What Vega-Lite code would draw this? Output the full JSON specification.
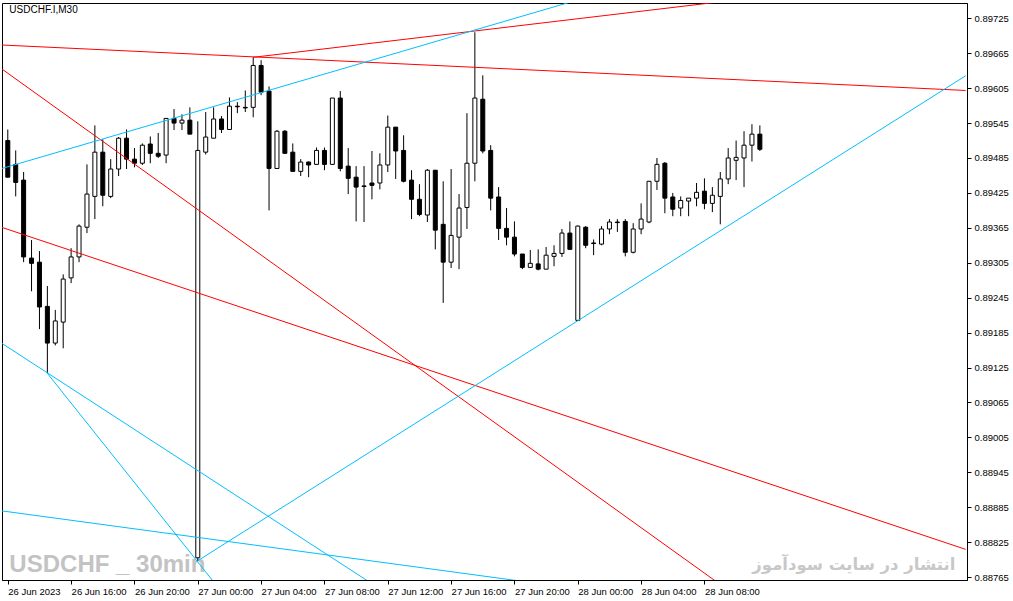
{
  "$schema": "https://vega.github.io/schema/vega-lite/v6.json",
  "width": 965,
  "height": 577,
  "autosize": {"type": "none"},
  "padding": {"left": 2, "top": 3, "right": 46, "bottom": 21},
  "background": "white",
  "datasets": {
    "candles": [
      {"t": "2023-06-26T12:00:00Z", "o": 0.89515, "h": 0.89534, "l": 0.89452, "c": 0.89452},
      {"t": "2023-06-26T12:30:00Z", "o": 0.89474, "h": 0.89498, "l": 0.89419, "c": 0.89443},
      {"t": "2023-06-26T13:00:00Z", "o": 0.89447, "h": 0.89461, "l": 0.89306, "c": 0.89315},
      {"t": "2023-06-26T13:30:00Z", "o": 0.89313, "h": 0.89344, "l": 0.89256, "c": 0.89304},
      {"t": "2023-06-26T14:00:00Z", "o": 0.89306, "h": 0.89325, "l": 0.89191, "c": 0.89229},
      {"t": "2023-06-26T14:30:00Z", "o": 0.89230, "h": 0.89265, "l": 0.89115, "c": 0.89167},
      {"t": "2023-06-26T15:00:00Z", "o": 0.89167, "h": 0.89224, "l": 0.89163, "c": 0.89205},
      {"t": "2023-06-26T15:30:00Z", "o": 0.89203, "h": 0.89285, "l": 0.89158, "c": 0.89277},
      {"t": "2023-06-26T16:00:00Z", "o": 0.89279, "h": 0.89330, "l": 0.89270, "c": 0.89315},
      {"t": "2023-06-26T16:30:00Z", "o": 0.89315, "h": 0.89371, "l": 0.89306, "c": 0.89368},
      {"t": "2023-06-26T17:00:00Z", "o": 0.89366, "h": 0.89474, "l": 0.89356, "c": 0.89423},
      {"t": "2023-06-26T17:30:00Z", "o": 0.89419, "h": 0.89541, "l": 0.89380, "c": 0.89495},
      {"t": "2023-06-26T18:00:00Z", "o": 0.89495, "h": 0.89517, "l": 0.89402, "c": 0.89421},
      {"t": "2023-06-26T18:30:00Z", "o": 0.89419, "h": 0.89483, "l": 0.89416, "c": 0.89466},
      {"t": "2023-06-26T19:00:00Z", "o": 0.89466, "h": 0.89521, "l": 0.89454, "c": 0.89519},
      {"t": "2023-06-26T19:30:00Z", "o": 0.89519, "h": 0.89534, "l": 0.89466, "c": 0.89483},
      {"t": "2023-06-26T20:00:00Z", "o": 0.89483, "h": 0.89502, "l": 0.89469, "c": 0.89476},
      {"t": "2023-06-26T20:30:00Z", "o": 0.89476, "h": 0.89510, "l": 0.89473, "c": 0.89507},
      {"t": "2023-06-26T21:00:00Z", "o": 0.89509, "h": 0.89522, "l": 0.89476, "c": 0.89493},
      {"t": "2023-06-26T21:30:00Z", "o": 0.89493, "h": 0.89528, "l": 0.89485, "c": 0.89488},
      {"t": "2023-06-26T22:00:00Z", "o": 0.89490, "h": 0.89553, "l": 0.89476, "c": 0.89553},
      {"t": "2023-06-26T22:30:00Z", "o": 0.89553, "h": 0.89569, "l": 0.89533, "c": 0.89545},
      {"t": "2023-06-26T23:00:00Z", "o": 0.89545, "h": 0.89560, "l": 0.89533, "c": 0.89550},
      {"t": "2023-06-26T23:30:00Z", "o": 0.89550, "h": 0.89572, "l": 0.89526, "c": 0.89526},
      {"t": "2023-06-27T00:00:00Z", "o": 0.88798, "h": 0.89548, "l": 0.88793, "c": 0.89498},
      {"t": "2023-06-27T00:30:00Z", "o": 0.89495, "h": 0.89564, "l": 0.89491, "c": 0.89521},
      {"t": "2023-06-27T01:00:00Z", "o": 0.89519, "h": 0.89572, "l": 0.89519, "c": 0.89552},
      {"t": "2023-06-27T01:30:00Z", "o": 0.89552, "h": 0.89557, "l": 0.89528, "c": 0.89534},
      {"t": "2023-06-27T02:00:00Z", "o": 0.89534, "h": 0.89589, "l": 0.89534, "c": 0.89574},
      {"t": "2023-06-27T02:30:00Z", "o": 0.89574, "h": 0.89581, "l": 0.89562, "c": 0.89573},
      {"t": "2023-06-27T03:00:00Z", "o": 0.89572, "h": 0.89601, "l": 0.89564, "c": 0.89571},
      {"t": "2023-06-27T03:30:00Z", "o": 0.89572, "h": 0.89658, "l": 0.89555, "c": 0.89644},
      {"t": "2023-06-27T04:00:00Z", "o": 0.89644, "h": 0.89653, "l": 0.89593, "c": 0.89598},
      {"t": "2023-06-27T04:30:00Z", "o": 0.89600, "h": 0.89608, "l": 0.89395, "c": 0.89467},
      {"t": "2023-06-27T05:00:00Z", "o": 0.89467, "h": 0.89533, "l": 0.89467, "c": 0.89531},
      {"t": "2023-06-27T05:30:00Z", "o": 0.89531, "h": 0.89533, "l": 0.89493, "c": 0.89493},
      {"t": "2023-06-27T06:00:00Z", "o": 0.89495, "h": 0.89510, "l": 0.89462, "c": 0.89462},
      {"t": "2023-06-27T06:30:00Z", "o": 0.89462, "h": 0.89483, "l": 0.89454, "c": 0.89478},
      {"t": "2023-06-27T07:00:00Z", "o": 0.89478, "h": 0.89479, "l": 0.89452, "c": 0.89473},
      {"t": "2023-06-27T07:30:00Z", "o": 0.89474, "h": 0.89503, "l": 0.89473, "c": 0.89498},
      {"t": "2023-06-27T08:00:00Z", "o": 0.89498, "h": 0.89503, "l": 0.89464, "c": 0.89474},
      {"t": "2023-06-27T08:30:00Z", "o": 0.89474, "h": 0.89588, "l": 0.89473, "c": 0.89588},
      {"t": "2023-06-27T09:00:00Z", "o": 0.89588, "h": 0.89600, "l": 0.89462, "c": 0.89467},
      {"t": "2023-06-27T09:30:00Z", "o": 0.89471, "h": 0.89502, "l": 0.89423, "c": 0.89450},
      {"t": "2023-06-27T10:00:00Z", "o": 0.89452, "h": 0.89471, "l": 0.89376, "c": 0.89435},
      {"t": "2023-06-27T10:30:00Z", "o": 0.89437, "h": 0.89471, "l": 0.89375, "c": 0.89436},
      {"t": "2023-06-27T11:00:00Z", "o": 0.89442, "h": 0.89497, "l": 0.89414, "c": 0.89438},
      {"t": "2023-06-27T11:30:00Z", "o": 0.89442, "h": 0.89493, "l": 0.89431, "c": 0.89473},
      {"t": "2023-06-27T12:00:00Z", "o": 0.89473, "h": 0.89558, "l": 0.89461, "c": 0.89538},
      {"t": "2023-06-27T12:30:00Z", "o": 0.89538, "h": 0.89538, "l": 0.89449, "c": 0.89497},
      {"t": "2023-06-27T13:00:00Z", "o": 0.89498, "h": 0.89524, "l": 0.89443, "c": 0.89445},
      {"t": "2023-06-27T13:30:00Z", "o": 0.89447, "h": 0.89464, "l": 0.89380, "c": 0.89414},
      {"t": "2023-06-27T14:00:00Z", "o": 0.89414, "h": 0.89440, "l": 0.89385, "c": 0.89388},
      {"t": "2023-06-27T14:30:00Z", "o": 0.89387, "h": 0.89466, "l": 0.89375, "c": 0.89464},
      {"t": "2023-06-27T15:00:00Z", "o": 0.89464, "h": 0.89464, "l": 0.89328, "c": 0.89361},
      {"t": "2023-06-27T15:30:00Z", "o": 0.89371, "h": 0.89445, "l": 0.89236, "c": 0.89306},
      {"t": "2023-06-27T16:00:00Z", "o": 0.89306, "h": 0.89466, "l": 0.89296, "c": 0.89352},
      {"t": "2023-06-27T16:30:00Z", "o": 0.89349, "h": 0.89423, "l": 0.89294, "c": 0.89399},
      {"t": "2023-06-27T17:00:00Z", "o": 0.89400, "h": 0.89562, "l": 0.89363, "c": 0.89476},
      {"t": "2023-06-27T17:30:00Z", "o": 0.89476, "h": 0.89701, "l": 0.89445, "c": 0.89588},
      {"t": "2023-06-27T18:00:00Z", "o": 0.89586, "h": 0.89627, "l": 0.89493, "c": 0.89497},
      {"t": "2023-06-27T18:30:00Z", "o": 0.89498, "h": 0.89507, "l": 0.89395, "c": 0.89416},
      {"t": "2023-06-27T19:00:00Z", "o": 0.89418, "h": 0.89435, "l": 0.89344, "c": 0.89364},
      {"t": "2023-06-27T19:30:00Z", "o": 0.89364, "h": 0.89399, "l": 0.89335, "c": 0.89349},
      {"t": "2023-06-27T20:00:00Z", "o": 0.89349, "h": 0.89376, "l": 0.89316, "c": 0.89320},
      {"t": "2023-06-27T20:30:00Z", "o": 0.89320, "h": 0.89320, "l": 0.89294, "c": 0.89297},
      {"t": "2023-06-27T21:00:00Z", "o": 0.89297, "h": 0.89327, "l": 0.89296, "c": 0.89304},
      {"t": "2023-06-27T21:30:00Z", "o": 0.89303, "h": 0.89328, "l": 0.89292, "c": 0.89294},
      {"t": "2023-06-27T22:00:00Z", "o": 0.89294, "h": 0.89332, "l": 0.89294, "c": 0.89318},
      {"t": "2023-06-27T22:30:00Z", "o": 0.89316, "h": 0.89335, "l": 0.89299, "c": 0.89321},
      {"t": "2023-06-27T23:00:00Z", "o": 0.89321, "h": 0.89363, "l": 0.89315, "c": 0.89356},
      {"t": "2023-06-27T23:30:00Z", "o": 0.89356, "h": 0.89376, "l": 0.89328, "c": 0.89328},
      {"t": "2023-06-28T00:00:00Z", "o": 0.89206, "h": 0.89369, "l": 0.89205, "c": 0.89368},
      {"t": "2023-06-28T00:30:00Z", "o": 0.89366, "h": 0.89368, "l": 0.89330, "c": 0.89335},
      {"t": "2023-06-28T01:00:00Z", "o": 0.89339, "h": 0.89345, "l": 0.89318, "c": 0.89338},
      {"t": "2023-06-28T01:30:00Z", "o": 0.89337, "h": 0.89368, "l": 0.89335, "c": 0.89363},
      {"t": "2023-06-28T02:00:00Z", "o": 0.89363, "h": 0.89380, "l": 0.89354, "c": 0.89375},
      {"t": "2023-06-28T02:30:00Z", "o": 0.89375, "h": 0.89380, "l": 0.89358, "c": 0.89374},
      {"t": "2023-06-28T03:00:00Z", "o": 0.89376, "h": 0.89380, "l": 0.89316, "c": 0.89323},
      {"t": "2023-06-28T03:30:00Z", "o": 0.89323, "h": 0.89373, "l": 0.89321, "c": 0.89363},
      {"t": "2023-06-28T04:00:00Z", "o": 0.89363, "h": 0.89407, "l": 0.89354, "c": 0.89380},
      {"t": "2023-06-28T04:30:00Z", "o": 0.89375, "h": 0.89445, "l": 0.89373, "c": 0.89445},
      {"t": "2023-06-28T05:00:00Z", "o": 0.89445, "h": 0.89485, "l": 0.89430, "c": 0.89474},
      {"t": "2023-06-28T05:30:00Z", "o": 0.89476, "h": 0.89478, "l": 0.89390, "c": 0.89416},
      {"t": "2023-06-28T06:00:00Z", "o": 0.89418, "h": 0.89425, "l": 0.89385, "c": 0.89397},
      {"t": "2023-06-28T06:30:00Z", "o": 0.89399, "h": 0.89419, "l": 0.89385, "c": 0.89412},
      {"t": "2023-06-28T07:00:00Z", "o": 0.89411, "h": 0.89416, "l": 0.89385, "c": 0.89416},
      {"t": "2023-06-28T07:30:00Z", "o": 0.89416, "h": 0.89442, "l": 0.89402, "c": 0.89426},
      {"t": "2023-06-28T08:00:00Z", "o": 0.89428, "h": 0.89450, "l": 0.89397, "c": 0.89407},
      {"t": "2023-06-28T08:30:00Z", "o": 0.89407, "h": 0.89435, "l": 0.89392, "c": 0.89421},
      {"t": "2023-06-28T09:00:00Z", "o": 0.89419, "h": 0.89461, "l": 0.89371, "c": 0.89449},
      {"t": "2023-06-28T09:30:00Z", "o": 0.89449, "h": 0.89502, "l": 0.89440, "c": 0.89485},
      {"t": "2023-06-28T10:00:00Z", "o": 0.89481, "h": 0.89515, "l": 0.89447, "c": 0.89486},
      {"t": "2023-06-28T10:30:00Z", "o": 0.89485, "h": 0.89531, "l": 0.89435, "c": 0.89507},
      {"t": "2023-06-28T11:00:00Z", "o": 0.89507, "h": 0.89543, "l": 0.89479, "c": 0.89526},
      {"t": "2023-06-28T11:30:00Z", "o": 0.89526, "h": 0.89541, "l": 0.89497, "c": 0.89500}
    ],
    "trendlines": [
      {"line": "R1", "t": "2023-06-26T11:30:00Z", "p": 0.896793},
      {"line": "R1", "t": "2023-06-29T00:30:00Z", "p": 0.896010},
      {"line": "R2", "t": "2023-06-27T03:30:00Z", "p": 0.896580},
      {"line": "R2", "t": "2023-06-28T14:00:00Z", "p": 0.897695},
      {"line": "R3", "t": "2023-06-26T11:30:00Z", "p": 0.896404},
      {"line": "R3", "t": "2023-06-28T11:30:00Z", "p": 0.887034},
      {"line": "R4", "t": "2023-06-26T11:30:00Z", "p": 0.893669},
      {"line": "R4", "t": "2023-06-29T00:30:00Z", "p": 0.888125},
      {"line": "B1", "t": "2023-06-26T11:30:00Z", "p": 0.894659},
      {"line": "B1", "t": "2023-06-28T04:00:00Z", "p": 0.897885},
      {"line": "B2", "t": "2023-06-27T00:00:00Z", "p": 0.887930},
      {"line": "B2", "t": "2023-06-29T00:30:00Z", "p": 0.896263},
      {"line": "B3", "t": "2023-06-26T11:30:00Z", "p": 0.891688},
      {"line": "B3", "t": "2023-06-27T13:00:00Z", "p": 0.887182},
      {"line": "B4", "t": "2023-06-26T14:30:00Z", "p": 0.891150},
      {"line": "B4", "t": "2023-06-27T03:00:00Z", "p": 0.886885},
      {"line": "B5", "t": "2023-06-26T11:30:00Z", "p": 0.888791},
      {"line": "B5", "t": "2023-06-28T04:00:00Z", "p": 0.887300}
    ]
  },
  "encoding": {
    "x": {
      "field": "t",
      "type": "temporal",
      "title": null,
      "scale": {
        "type": "utc",
        "domain": [
          {"year": 2023, "month": 6, "date": 26, "hours": 11, "minutes": 57, "utc": true},
          {"year": 2023, "month": 6, "date": 29, "hours": 0, "minutes": 16, "utc": true}
        ]
      },
      "axis": {
        "orient": "bottom",
        "values": [
          {"year": 2023, "month": 6, "date": 26, "hours": 12, "utc": true},
          {"year": 2023, "month": 6, "date": 26, "hours": 16, "utc": true},
          {"year": 2023, "month": 6, "date": 26, "hours": 20, "utc": true},
          {"year": 2023, "month": 6, "date": 27, "hours": 0, "utc": true},
          {"year": 2023, "month": 6, "date": 27, "hours": 4, "utc": true},
          {"year": 2023, "month": 6, "date": 27, "hours": 8, "utc": true},
          {"year": 2023, "month": 6, "date": 27, "hours": 12, "utc": true},
          {"year": 2023, "month": 6, "date": 27, "hours": 16, "utc": true},
          {"year": 2023, "month": 6, "date": 27, "hours": 20, "utc": true},
          {"year": 2023, "month": 6, "date": 28, "hours": 0, "utc": true},
          {"year": 2023, "month": 6, "date": 28, "hours": 4, "utc": true},
          {"year": 2023, "month": 6, "date": 28, "hours": 8, "utc": true}
        ],
        "labelExpr": "utcFormat(datum.value, '%d %H') == '26 12' ? utcFormat(datum.value, '%d %b %Y') : utcFormat(datum.value, '%d %b %H:%M')",
        "labelAlign": "left",
        "labelPadding": 2,
        "labelFlush": false,
        "labelOverlap": false
      }
    },
    "y": {
      "type": "quantitative",
      "scale": {"domain": [0.887599, 0.897513], "nice": false, "zero": false},
      "axis": {
        "title": null,
        "orient": "right",
        "values": [0.88765, 0.88825, 0.88885, 0.88945, 0.89005, 0.89065, 0.89125, 0.89185, 0.89245, 0.89305, 0.89365, 0.89425, 0.89485, 0.89545, 0.89605, 0.89665, 0.89725],
        "format": ".5f",
        "labelPadding": 3,
        "labelFlush": false,
        "labelOverlap": false,
        "labelBound": false
      }
    }
  },
  "layer": [
    {
      "data": {"values": [{"t": "2023-06-26T12:06:00Z", "p": 0.887737, "label": "USDCHF _ 30min"}]},
      "mark": {"type": "text", "align": "left", "baseline": "alphabetic", "font": "Liberation Sans", "fontWeight": "bold", "fontSize": 24, "color": "#c3c3c3"},
      "encoding": {
        "y": {"field": "p"},
        "text": {"field": "label"}
      }
    },
    {
      "data": {"values": [{"t": "2023-06-28T23:51:00Z", "p": 0.887771, "label": "انتشار در سایت سودآموز"}]},
      "mark": {"type": "text", "align": "right", "baseline": "alphabetic", "font": "DejaVu Sans", "fontWeight": "bold", "fontSize": 16.5, "color": "#c8c8c8"},
      "encoding": {
        "y": {"field": "p"},
        "text": {"field": "label"}
      }
    },
    {
      "data": {"values": [{"t": "2023-06-26T12:06:00Z", "p": 0.89739, "label": "USDCHF.I,M30"}]},
      "mark": {"type": "text", "align": "left", "baseline": "middle", "font": "Liberation Sans", "fontSize": 10, "color": "black"},
      "encoding": {
        "y": {"field": "p"},
        "text": {"field": "label"}
      }
    },
    {
      "data": {"name": "candles"},
      "mark": {"type": "rule", "color": "black", "strokeWidth": 1},
      "encoding": {
        "y": {"field": "l"},
        "y2": {"field": "h"}
      }
    },
    {
      "data": {"name": "candles"},
      "mark": {"type": "bar", "width": 4, "stroke": "black", "strokeWidth": 1},
      "encoding": {
        "y": {"field": "o"},
        "y2": {"field": "c"},
        "fill": {"condition": {"test": "datum.c >= datum.o", "value": "white"}, "value": "black"}
      }
    },
    {
      "data": {"name": "trendlines"},
      "mark": {"type": "line", "clip": true, "strokeWidth": 1},
      "encoding": {
        "y": {"field": "p"},
        "detail": {"field": "line"},
        "color": {
          "field": "line",
          "type": "nominal",
          "legend": null,
          "scale": {
            "domain": ["R1", "R2", "R3", "R4", "B1", "B2", "B3", "B4", "B5"],
            "range": ["#ff0000", "#ff0000", "#ff0000", "#ff0000", "#00bfff", "#00bfff", "#00bfff", "#00bfff", "#00bfff"]
          }
        }
      }
    }
  ],
  "config": {
    "view": {"stroke": "black", "strokeWidth": 1},
    "axis": {
      "grid": false,
      "labelFont": "Liberation Sans",
      "labelFontSize": 9.5,
      "labelColor": "black",
      "tickColor": "black",
      "tickSize": 4,
      "domainColor": "black"
    },
    "axisY": {"labelOverlap": false}
  }
}
